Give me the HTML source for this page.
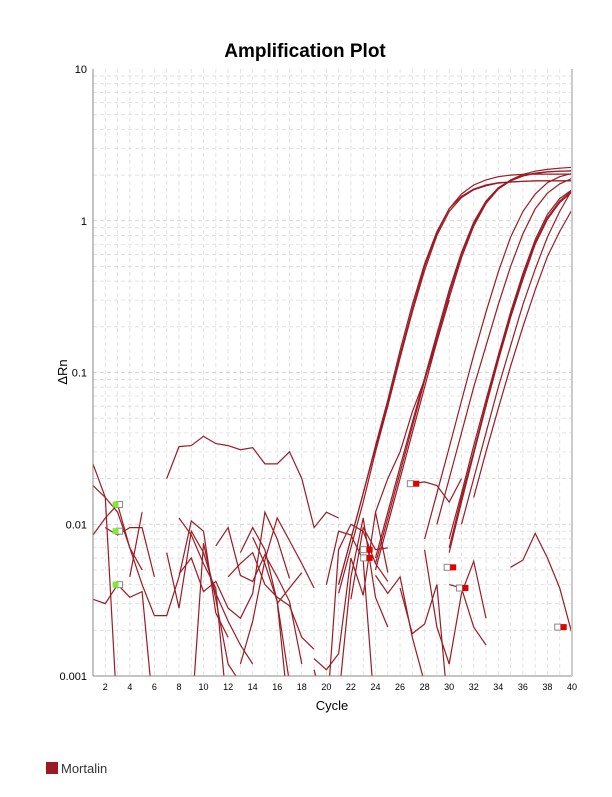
<!DOCTYPE html>
<html><head><meta charset="utf-8"><style>
body{margin:0;background:#fff;font-family:"Liberation Sans",sans-serif;}
#wrap{position:relative;width:612px;height:792px;}
</style></head><body>
<div id="wrap">
<svg id="svg" width="612" height="792" xmlns="http://www.w3.org/2000/svg">
<text x="305" y="57" text-anchor="middle" font-size="19" font-weight="bold" font-family="Liberation Sans, sans-serif">Amplification Plot</text>
<text transform="translate(67,372) rotate(-90)" text-anchor="middle" font-size="13">ΔRn</text>
<text x="332" y="710" text-anchor="middle" font-size="13">Cycle</text>
<rect x="46" y="762" width="12" height="12" fill="#9b1b24"/>
<text x="61" y="773" font-size="13" fill="#333">Mortalin</text>
<defs><clipPath id="pc"><rect x="93" y="69" width="479" height="607"/></clipPath></defs>
<g id="grid"></g><g id="lines" clip-path="url(#pc)"></g><g id="axes"></g><g id="marks"></g>
</svg></div>
<script>
const xTicks=[2,4,6,8,10,12,14,16,18,20,22,24,26,28,30,32,34,36,38,40];
const yTicks=[0.001,0.01,0.1,1,10];
const yTickLabels=["0.001","0.01","0.1","1","10"];
// amplification curves: [startCycle, values...]
const ampCurves=[
[21,0.004,0.008,0.016,0.033,0.066,0.14,0.28,0.52,0.85,1.2,1.45,1.62,1.72,1.78,1.8,1.82,1.83,1.83,1.83,1.83],
[21,0.0035,0.007,0.014,0.03,0.06,0.125,0.25,0.47,0.8,1.15,1.42,1.6,1.7,1.77,1.8,1.82,1.83,1.83,1.83,1.83],
[21,0.004,0.008,0.016,0.032,0.062,0.13,0.26,0.5,0.83,1.2,1.5,1.72,1.86,1.95,2.0,2.02,2.03,2.03,2.03,2.03],
[24,0.006,0.012,0.024,0.047,0.092,0.18,0.35,0.62,0.98,1.35,1.65,1.85,1.98,2.06,2.1,2.12,2.13],
[24,0.0055,0.011,0.022,0.044,0.088,0.17,0.33,0.6,0.95,1.32,1.62,1.83,1.97,2.05,2.1,2.12,2.13],
[24,0.005,0.01,0.02,0.04,0.08,0.16,0.31,0.57,0.92,1.3,1.62,1.86,2.02,2.12,2.18,2.22,2.25],
[28,0.008,0.016,0.032,0.065,0.13,0.25,0.46,0.78,1.15,1.5,1.78,1.95,2.05],
[29,0.01,0.02,0.04,0.08,0.15,0.28,0.5,0.82,1.2,1.52,1.75,1.9],
[30,0.008,0.016,0.033,0.066,0.13,0.25,0.45,0.75,1.1,1.4,1.6],
[30,0.007,0.015,0.03,0.062,0.125,0.24,0.43,0.72,1.05,1.35,1.58],
[30,0.0065,0.014,0.029,0.06,0.12,0.23,0.41,0.7,1.02,1.32,1.55],
[31,0.01,0.02,0.04,0.08,0.15,0.28,0.48,0.78,1.15,1.6],
[32,0.015,0.03,0.058,0.11,0.2,0.35,0.58,0.85,1.18],
[24,0.012,0.02,0.03,0.055,0.09,0.16,0.3],
[27,0.0185,0.019,0.018,0.014,0.02]
];
// noise fragments: [startCycle, values...]; 0.0005 = below axis
const noise=[
[1,0.025,0.015,0.012,0.007,0.004,0.0025],
[1,0.0085,0.011,0.0135,0.007,0.005],
[1,0.018,0.015,0.0005],
[1,0.0032,0.003,0.004,0.0033,0.0036,0.0005],
[2,0.0095,0.0085,0.0095,0.0095,0.0045],
[4,0.0045,0.012],
[6,0.0025,0.0025,0.0045,0.0105,0.009,0.0026,0.0018],
[7,0.02,0.0325,0.033,0.038,0.034,0.033,0.031,0.032,0.025,0.025,0.03,0.02,0.0095,0.012,0.011],
[7,0.0065,0.0028,0.009,0.0065,0.0035,0.0023,0.0016,0.0012],
[8,0.011,0.0085,0.0055,0.0038,0.0005],
[8,0.0047,0.006,0.0036,0.0042,0.0028,0.0024,0.0035,0.012,0.008,0.0044],
[9,0.0005,0.0075,0.0032,0.0012,0.0009],
[11,0.0072,0.0095,0.0046,0.0042,0.0063,0.0045,0.0031,0.0012],
[12,0.0045,0.0055,0.0065,0.004,0.0033,0.0029,0.0018,0.0015],
[13,0.0012,0.0023,0.0058,0.011,0.0078,0.0055,0.0038],
[13,0.0065,0.0095,0.0068,0.0031,0.0005],
[14,0.0082,0.0055,0.0031,0.0009],
[16,0.003,0.0038,0.0048],
[19,0.0013,0.0011,0.0014,0.006,0.0034,0.012,0.0048],
[19,0.0011,0.0005,0.0068,0.01,0.009,0.0055,0.0042],
[20,0.004,0.009,0.0085,0.0058,0.0005],
[21,0.0007,0.0045,0.011,0.0033,0.0021],
[22,0.0032,0.0095,0.0068,0.007],
[24,0.0046,0.0035,0.0045,0.0018,0.0009],
[26,0.0038,0.0019,0.0022,0.004,0.0005],
[28,0.0068,0.0021,0.0012,0.0035,0.0057,0.0024],
[30,0.004,0.0038,0.0021,0.0016],
[35,0.0052,0.0058,0.0087,0.006,0.0038,0.0019,0.0022,0.0021,0.0027,0.0042]
];
const markCycles=[3,3,3,23.2,23.2,27,30,31,39];
const markValues=[0.0135,0.009,0.004,0.0068,0.006,0.0185,0.0052,0.0038,0.0021];
const markColors=["#7fe83a","#7fe83a","#7fe83a","#e00000","#e00000","#e00000","#e00000","#e00000","#e00000"];

const NS="http://www.w3.org/2000/svg";
const X=c=>93+(c-1)*(479/39);
const Y=v=>676-(Math.log10(v)+3)*151.75;
function el(t,a,p){const e=document.createElementNS(NS,t);for(const k in a)e.setAttribute(k,a[k]);document.getElementById(p).appendChild(e);return e;}
for(let c=2;c<=39;c++){
 const g=el('line',{x1:X(c),x2:X(c),y1:69,y2:676,stroke:'#ddd','stroke-dasharray':'4,3','stroke-width':0.8},'grid');
 
 
}
for(let d=-3;d<1;d++)for(let m=1;m<=9;m++){
 const v=m*Math.pow(10,d);
 const g=el('line',{x1:93,x2:572,y1:Y(v),y2:Y(v),stroke:m==1?'#ccc':'#ddd','stroke-dasharray':'4,3','stroke-width':0.8},'grid');
 
 
}
const a1=el('line',{x1:93,x2:93,y1:69,y2:676,stroke:'#888'},'axes');


const a2=el('line',{x1:93,x2:572,y1:676,y2:676,stroke:'#888'},'axes');


const a3=el('line',{x1:572,x2:572,y1:69,y2:676,stroke:'#ccc','stroke-width':2},'axes');


xTicks.forEach(c=>{
 const t=el('text',{x:X(c),y:690,'text-anchor':'middle','font-size':9},'axes');t.textContent=c;
 
 
});
yTicks.forEach((v,i)=>{
 const t=el('text',{x:87,y:Y(v)+4,'text-anchor':'end','font-size':11},'axes');t.textContent=yTickLabels[i];
 
 
});
function draw(arr,name){arr.forEach(s=>{
 const pts=s.slice(1).map((v,i)=>X(s[0]+i).toFixed(1)+','+Y(v).toFixed(1)).join(' ');
 const p=el('polyline',{points:pts,fill:'none',stroke:'#9b1b24','stroke-width':1.2},'lines');
 
 
});}
draw(noise,'noise-trace');draw(ampCurves,'amplification-curve');
markCycles.forEach((c,i)=>{
 const g=el('rect',{x:X(c)-1,y:Y(markValues[i])-3,width:6,height:6,fill:'#fff',stroke:'#888'},'marks');
 
 
 const r=el('rect',{x:X(c)-5,y:Y(markValues[i])-3,width:6,height:6,fill:markColors[i]},'marks');
 if(i>=3){r.setAttribute('x',X(c)+1);g.setAttribute('x',X(c)-5);}
 
 
});
</script></body></html>
